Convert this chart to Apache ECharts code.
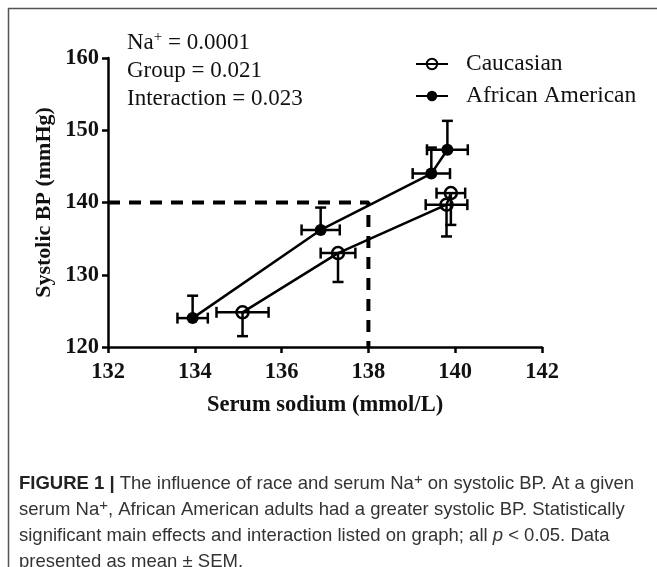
<!DOCTYPE html>
<html>
  <head>
    <meta charset="utf-8" />
    <title>Systolic BP vs serum sodium</title>
    <script src="https://cdn.jsdelivr.net/npm/echarts@6.0.0/dist/echarts.min.js"></script>
    <style>
      html, body { margin: 0; padding: 0; background: #fff; }
    </style>
  </head>
  <body>
    <div id="main" style="width: 657px;height:567px;"></div>
    <script type="text/javascript">
// Caucasian: mean serum Na+ (x), mean systolic BP (y), SEM (x error, y error downward)
const caucX = [135.1, 137.3, 139.8, 139.9];
const caucY = [124.8, 133.0, 139.7, 141.3];
const caucXErr = [0.6, 0.4, 0.48, 0.33];
const caucYErr = [3.3, 4.0, 4.4, 4.4];

// African American: y error drawn upward
const aaX = [133.95, 136.9, 139.45, 139.82];
const aaY = [124.0, 136.2, 144.0, 147.3];
const aaXErr = [0.35, 0.44, 0.43, 0.47];
const aaYErr = [3.1, 3.1, 3.6, 4.0];

// dashed reference at 138 mmol/L -> 140 mmHg
const refLine = [[132, 140], [138, 140], [138, 120]];

const xTicks = [132, 134, 136, 138, 140, 142];
const yTicks = [120, 130, 140, 150, 160];

const statLines = [
  '{a|Na}{s|+}{a| = 0.0001}',
  '{a|Group = 0.021}',
  '{a|Interaction = 0.023}'
];

const captionLines = [
  '{b|FIGURE 1 | }{t|The influence of race and serum Na}{s|+}{t| on systolic BP. At a given}',
  '{t|serum Na}{s|+}{t|, African American adults had a greater systolic BP. Statistically}',
  '{t|significant main effects and interaction listed on graph; all }{i|p}{t| < 0.05. Data}',
  '{t|presented as mean \u00b1 SEM.}'
];

const serif = '"Liberation Serif", "Times New Roman", serif';
const sans = '"Liberation Sans", Arial, sans-serif';

function points(xs, ys) {
  return xs.map(function (x, i) { return [x, ys[i]]; });
}
function errRows(xs, ys, xe, ye, dir) {
  return xs.map(function (x, i) { return [x, ys[i], xe[i], dir * ye[i]]; });
}

function renderErr(params, api) {
  const x = api.value(0), y = api.value(1), xe = api.value(2), ye = api.value(3);
  const c = api.coord([x, y]);
  const l = api.coord([x - xe, y]);
  const r = api.coord([x + xe, y]);
  const e = api.coord([x, y + ye]);
  const st = { stroke: '#000', lineWidth: 2.5 };
  const cap = 5.5;
  return {
    type: 'group',
    children: [
      { type: 'line', shape: { x1: l[0], y1: l[1], x2: r[0], y2: r[1] }, style: st },
      { type: 'line', shape: { x1: l[0], y1: l[1] - cap, x2: l[0], y2: l[1] + cap }, style: st },
      { type: 'line', shape: { x1: r[0], y1: r[1] - cap, x2: r[0], y2: r[1] + cap }, style: st },
      { type: 'line', shape: { x1: c[0], y1: c[1], x2: e[0], y2: e[1] }, style: st },
      { type: 'line', shape: { x1: e[0] - cap, y1: e[1], x2: e[0] + cap, y2: e[1] }, style: st }
    ]
  };
}

var chartDom = document.getElementById('main');
var myChart = echarts.init(chartDom);
var option;

const graphics = [
  {
    type: 'polyline',
    shape: { points: [[8.5, 700], [8.5, 8.5], [700, 8.5]] },
    style: { stroke: '#555', lineWidth: 1.5, fill: null },
    silent: true
  }
];
statLines.forEach(function (t, i) {
  // lines carrying a superscript sit a little lower, so shift the plain ones
  const hasSup = t.indexOf('{s|') >= 0;
  graphics.push({
    type: 'text',
    left: 127,
    top: 30 + i * 27.5 + (hasSup ? 0 : 2),
    style: {
      text: t,
      rich: {
        a: { fontFamily: serif, fontSize: 23, fill: '#111' },
        s: { fontFamily: serif, fontSize: 15, fill: '#111', padding: [0, 0, 11, 0] }
      }
    }
  });
});
captionLines.forEach(function (t, i) {
  const hasSup = t.indexOf('{s|') >= 0;
  graphics.push({
    type: 'text',
    left: 19,
    top: 472 + i * 26.2 + (hasSup ? 0 : 2),
    style: {
      text: t,
      rich: {
        b: { fontFamily: sans, fontSize: 18.5, fontWeight: 'bold', fill: '#222' },
        t: { fontFamily: sans, fontSize: 18.5, fill: '#333' },
        i: { fontFamily: sans, fontSize: 18.5, fontStyle: 'italic', fill: '#333' },
        s: { fontFamily: sans, fontSize: 15, fill: '#333', padding: [0, 0, 8, 0] }
      }
    }
  });
});

option = {
  animation: false,
  backgroundColor: '#fff',
  grid: { left: 108, right: 115, top: 58, bottom: 220 },
  legend: {
    data: ['Caucasian', 'African American'],
    orient: 'vertical',
    left: 410,
    top: 47,
    itemWidth: 32,
    itemHeight: 13,
    itemGap: 8,
    textStyle: {
      fontFamily: serif,
      fontSize: 23.5,
      lineHeight: 22,
      color: '#111',
      padding: [0, 0, 0, 13]
    }
  },
  xAxis: {
    type: 'value',
    min: xTicks[0],
    max: xTicks[xTicks.length - 1],
    interval: 2,
    name: 'Serum sodium (mmol/L)',
    nameLocation: 'middle',
    nameMoveOverlap: false,
    nameGap: 47,
    nameTextStyle: { fontFamily: serif, fontSize: 22.5, fontWeight: 'bold', color: '#111' },
    axisLine: { lineStyle: { color: '#000', width: 2.5 } },
    axisTick: { length: 6, lineStyle: { color: '#000', width: 2.5 } },
    axisLabel: { margin: 14, fontFamily: serif, fontSize: 22.5, fontWeight: 'bold', color: '#111' },
    splitLine: { show: false }
  },
  yAxis: {
    type: 'value',
    min: yTicks[0],
    max: yTicks[yTicks.length - 1],
    interval: 10,
    name: 'Systolic BP (mmHg)',
    nameLocation: 'middle',
    nameMoveOverlap: false,
    nameGap: 53,
    nameTextStyle: { fontFamily: serif, fontSize: 22, fontWeight: 'bold', color: '#111' },
    axisLine: { show: true, lineStyle: { color: '#000', width: 2.5 } },
    axisTick: { show: true, length: 6, lineStyle: { color: '#000', width: 2.5 } },
    axisLabel: { margin: 9, fontFamily: serif, fontSize: 22.5, fontWeight: 'bold', color: '#111' },
    splitLine: { show: false }
  },
  graphic: graphics,
  series: [
    {
      name: 'ref',
      type: 'line',
      data: refLine,
      symbol: 'none',
      lineStyle: { color: '#000', width: 4, type: [12, 9] },
      z: 1,
      silent: true
    },
    {
      name: 'Caucasian err',
      type: 'custom',
      renderItem: renderErr,
      data: errRows(caucX, caucY, caucXErr, caucYErr, -1),
      encode: { x: 0, y: 1 },
      z: 2,
      silent: true
    },
    {
      name: 'African American err',
      type: 'custom',
      renderItem: renderErr,
      data: errRows(aaX, aaY, aaXErr, aaYErr, 1),
      encode: { x: 0, y: 1 },
      z: 2,
      silent: true
    },
    {
      name: 'Caucasian',
      type: 'line',
      data: points(caucX, caucY),
      symbol: 'circle',
      symbolSize: 12,
      itemStyle: { color: 'rgba(255,255,255,0)', borderColor: '#000', borderWidth: 2.5 },
      lineStyle: { color: '#000', width: 2.5 },
      z: 3
    },
    {
      name: 'African American',
      type: 'line',
      data: points(aaX, aaY),
      symbol: 'circle',
      symbolSize: 12,
      itemStyle: { color: '#000', borderColor: '#000', borderWidth: 0 },
      lineStyle: { color: '#000', width: 2.5 },
      z: 3
    }
  ]
};

option && myChart.setOption(option);
    </script>
  </body>
</html>
